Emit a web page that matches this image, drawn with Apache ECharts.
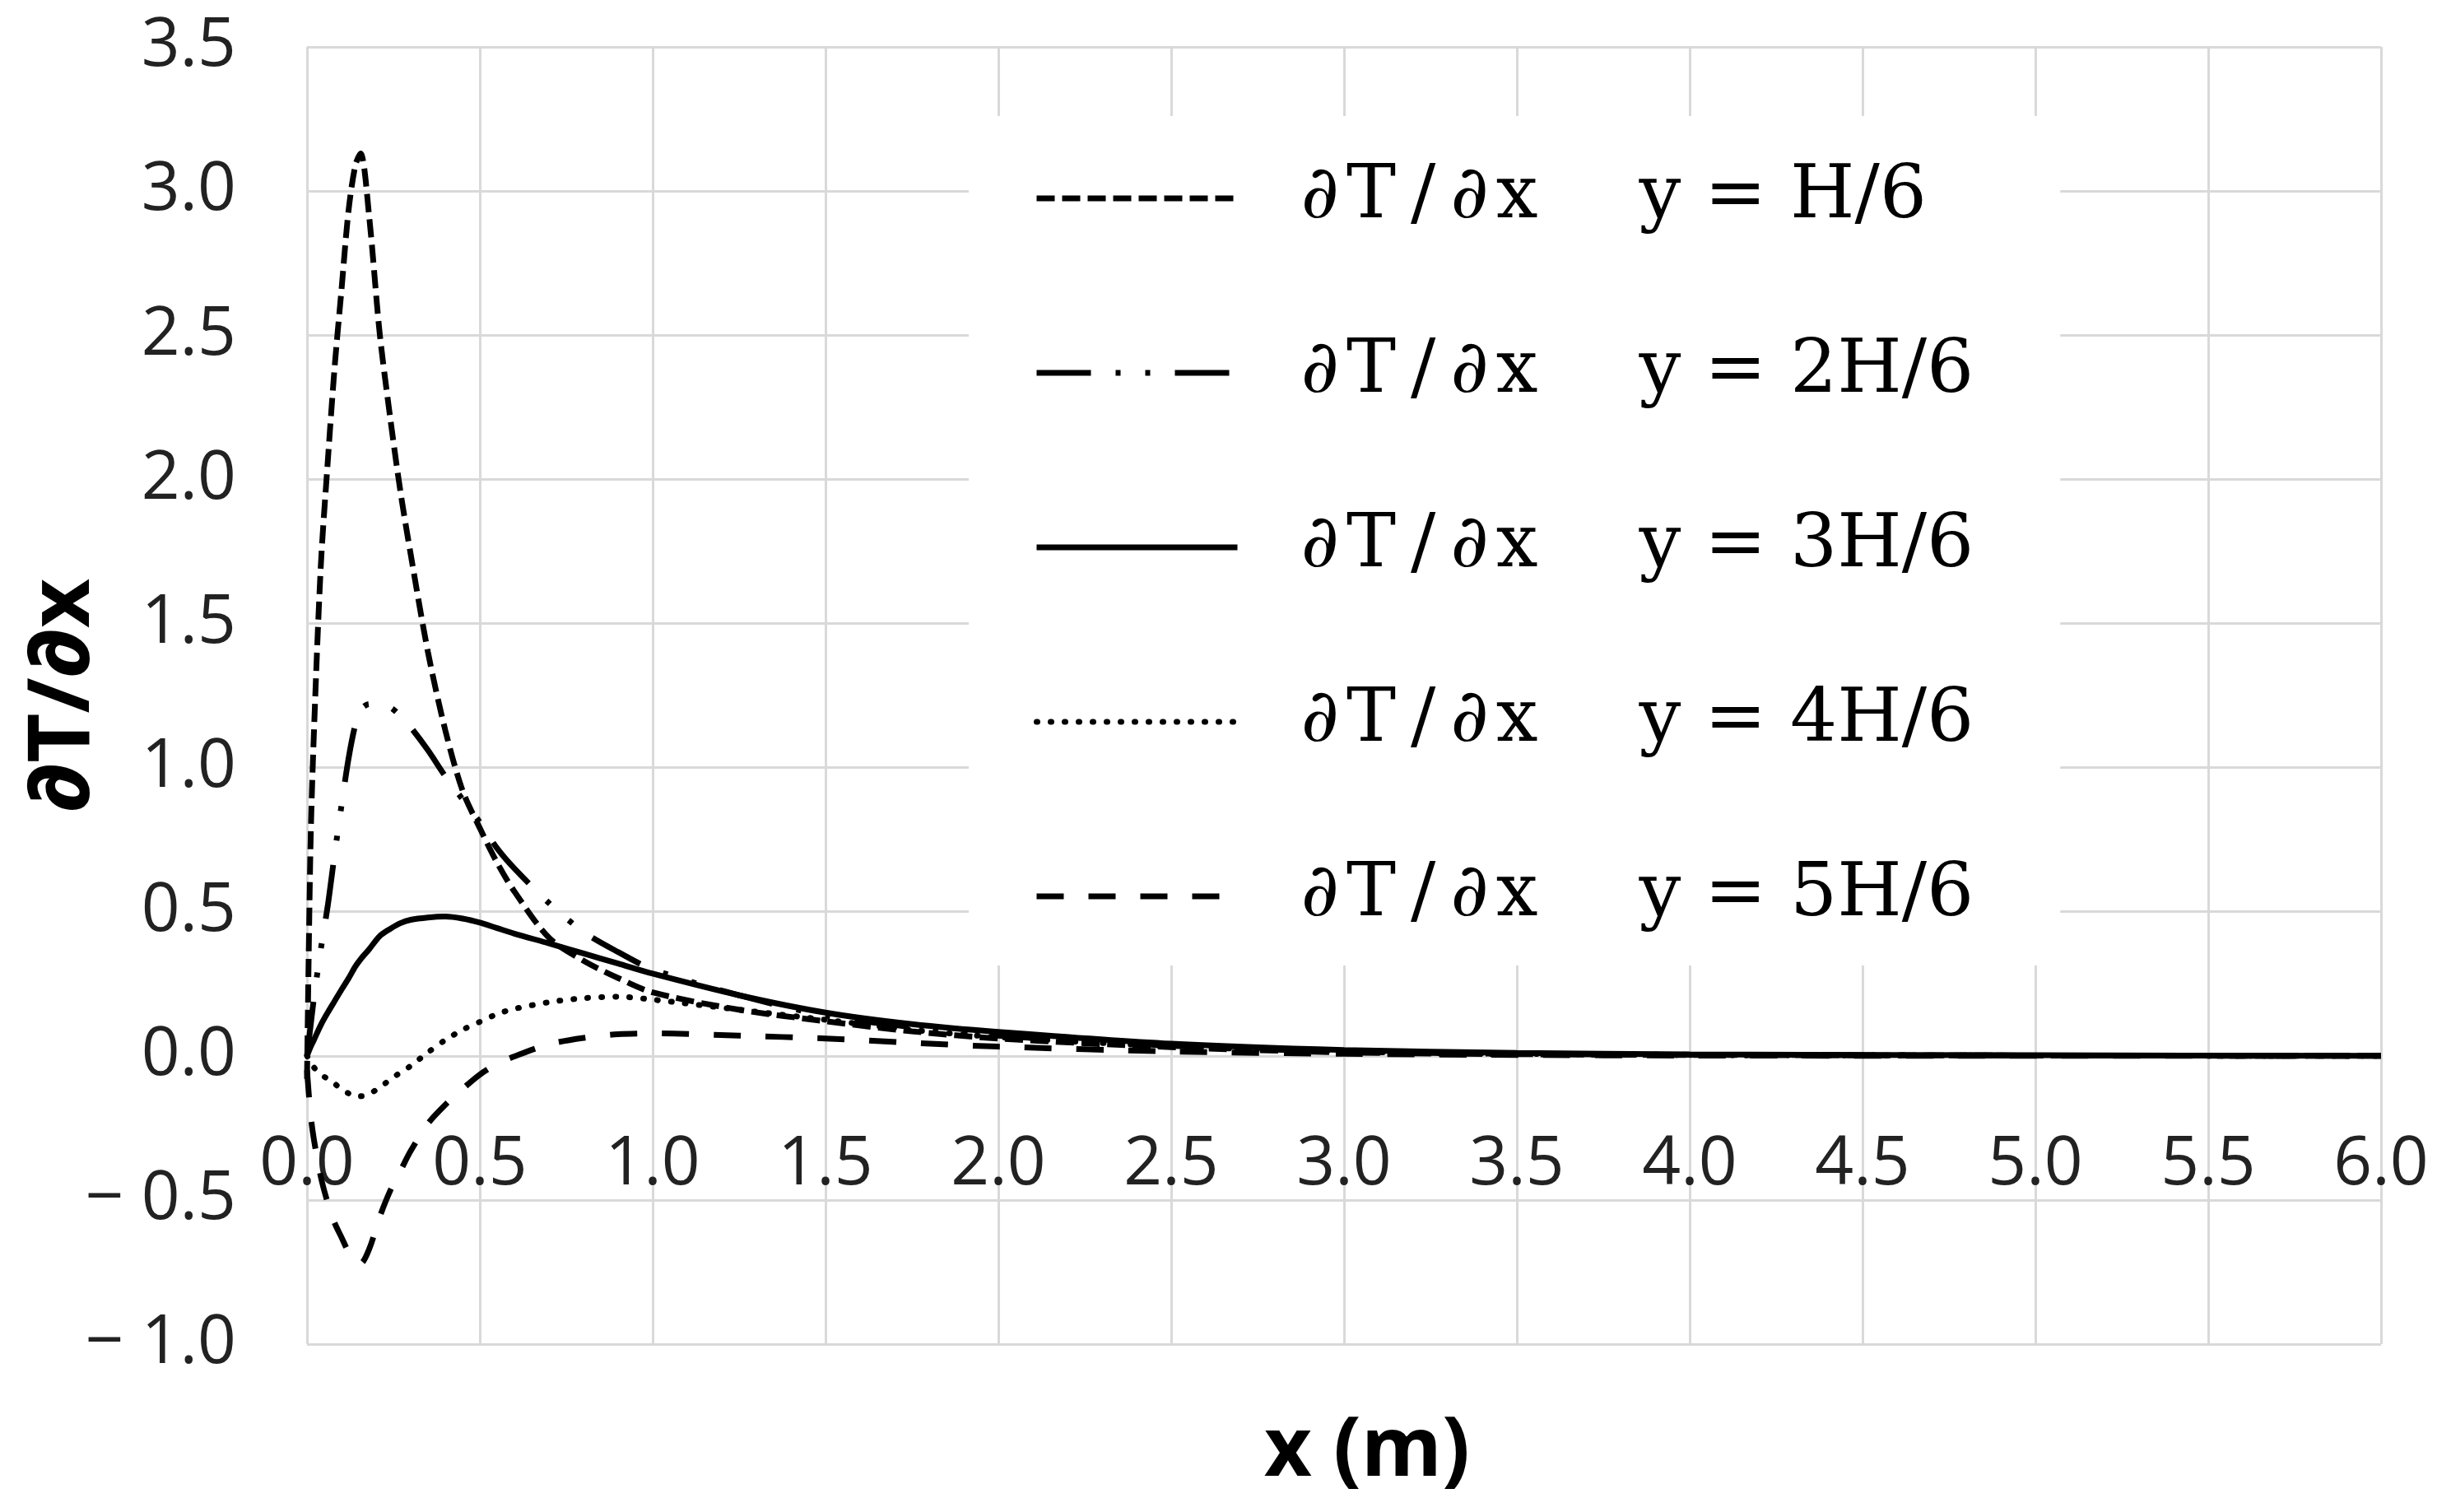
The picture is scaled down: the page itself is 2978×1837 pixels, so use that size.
<!DOCTYPE html>
<html>
<head>
<meta charset="utf-8">
<title>dT/dx</title>
<script src="https://cdn.jsdelivr.net/npm/echarts@6/dist/echarts.min.js"></script>
<style>
  html, body { margin: 0; padding: 0; background: #fff; }
  #curve { width: 2978px; height: 1837px; }
</style>
</head>
<body>
<div id="curve"></div>
<script>
// x positions (m) shared by all curves
var xs = [0, 0.01, 0.02, 0.04, 0.06, 0.08, 0.10, 0.12, 0.14, 0.155, 0.18, 0.21, 0.24, 0.27, 0.30,
          0.35, 0.40, 0.45, 0.50, 0.55, 0.60, 0.70, 0.80, 0.90, 1.00, 1.25, 1.50, 1.75, 2.00,
          2.50, 3.00, 3.50, 4.00, 5.00, 6.00];

// dT/dx, one array per height
var yH1 = [-0.08, 0.72, 1.12, 1.70, 2.06, 2.39, 2.66, 2.93, 3.09, 3.13, 2.91, 2.51, 2.22, 1.96, 1.74,
           1.40, 1.13, 0.92, 0.79, 0.67, 0.57, 0.41, 0.33, 0.27, 0.22, 0.16, 0.12, 0.085, 0.06,
           0.03, 0.012, 0.006, 0.003, 0.001, 0];
var yH2 = [0, 0.10, 0.20, 0.37, 0.52, 0.70, 0.87, 1.03, 1.15, 1.20, 1.22, 1.22, 1.21, 1.18, 1.14,
           1.06, 0.97, 0.89, 0.81, 0.72, 0.65, 0.53, 0.43, 0.36, 0.30, 0.21, 0.14, 0.10, 0.07,
           0.035, 0.015, 0.007, 0.004, 0.001, 0];
var yH3 = [0, 0.03, 0.055, 0.107, 0.15, 0.19, 0.23, 0.268, 0.31, 0.335, 0.37, 0.415, 0.44, 0.46, 0.472,
           0.48, 0.483, 0.476, 0.462, 0.443, 0.424, 0.39, 0.355, 0.32, 0.285, 0.21, 0.15, 0.11, 0.083,
           0.042, 0.02, 0.01, 0.005, 0.002, 0];
var yH4 = [0, -0.02, -0.04, -0.065, -0.08, -0.097, -0.115, -0.13, -0.14, -0.14, -0.132, -0.11, -0.083, -0.058, -0.035,
           0.012, 0.055, 0.09, 0.118, 0.145, 0.163, 0.186, 0.2, 0.205, 0.195, 0.16, 0.125, 0.09, 0.065,
           0.033, 0.015, 0.007, 0.003, 0.001, 0];
var yH5 = [-0.05, -0.2, -0.29, -0.42, -0.51, -0.58, -0.63, -0.68, -0.71, -0.72, -0.67, -0.56, -0.47, -0.40, -0.33,
           -0.235, -0.17, -0.115, -0.065, -0.028, -0.002, 0.04, 0.062, 0.075, 0.078, 0.07, 0.06, 0.045, 0.032,
           0.015, 0.007, 0.003, 0.001, 0, 0];

var seriesNames = ['H/6', '2H/6', '3H/6', '4H/6', '5H/6'];
var seriesValues = [yH1, yH2, yH3, yH4, yH5];
/*线型: 短虚线, 长划双点, 实线, 点线, 长虚线*/
var lineTypes = [[22, 9], [66, 30, 6, 30, 6, 30], 'solid', [1, 16], [33, 30]];
var lineCaps = ['butt', 'butt', 'butt', 'round', 'butt'];

var myChart = echarts.init(document.getElementById('curve'));

var axisFont = "'Open Sans', 'DejaVu Sans', sans-serif";
var legendFont = "'DejaVu Serif', 'Liberation Serif', serif";

var series = seriesNames.map(function (name, k) {
    return {
        name: name,
        type: 'line',
        smooth: 0.3,
        symbol: 'none',
        color: '#000',
        data: xs.map(function (x, i) { return [x, seriesValues[k][i]]; }),
        lineStyle: {
            color: '#000',
            width: 7,
            type: lineTypes[k],
            cap: lineCaps[k]
        },
        z: 3
    };
});

var option = {
    animation: false,
    backgroundColor: '#fff',
    color: ['#000'],
    grid: {
        left: 373,
        right: 85,
        top: 57,
        bottom: 204,
        containLabel: false,
        outerBoundsMode: 'none'
    },
    legend: {
        orient: 'vertical',
        left: 1177,
        top: 141,
        padding: [55, 105, 39, 79],
        backgroundColor: '#fff',
        itemWidth: 244,
        itemHeight: 90,
        itemGap: 122,
        data: seriesNames,
        itemStyle: { opacity: 0 },
        lineStyle: { width: 7, color: '#000' },
        formatter: function (name) {
            // 细空格让 ∂T/∂x 更宽一点
            return '{g| }{a|∂\u200aT\u2009/\u2009∂\u200ax}{b|y = ' + name + '}';
        },
        textStyle: {
            color: '#000',
            fontFamily: legendFont,
            fontSize: 90,
            rich: {
                g: { width: 72, fontSize: 90, lineHeight: 90 },
                a: { width: 411, fontSize: 90, lineHeight: 90, fontFamily: legendFont },
                b: { fontSize: 90, lineHeight: 90, fontFamily: legendFont }
            }
        },
        z: 5
    },
    /*X轴, 放在 y=0 处*/
    xAxis: {
        type: 'value',
        min: 0,
        max: 6,
        interval: 0.5,
        offset: -350,
        name: 'x (m)',
        nameLocation: 'middle',
        nameGap: 432,
        nameMoveOverlap: false,
        nameTextStyle: {
            fontFamily: axisFont,
            fontWeight: 'bold',
            fontSize: 100,
            color: '#000',
            padding: [0, 0, 0, 56]
        },
        axisLine: {
            show: true,
            onZero: false,
            lineStyle: { color: '#d9d9d9', width: 3 }
        },
        axisTick: { show: false },
        axisLabel: {
            margin: 92,
            fontFamily: axisFont,
            fontSize: 82,
            color: '#222',
            formatter: function (v) { return v.toFixed(1); }
        },
        splitLine: {
            show: true,
            lineStyle: { color: '#d9d9d9', width: 3 }
        }
    },
    /*Y轴*/
    yAxis: {
        type: 'value',
        min: -1,
        max: 3.5,
        interval: 0.5,
        name: '∂T/∂x',
        nameLocation: 'middle',
        nameGap: 243,
        nameMoveOverlap: false,
        nameTextStyle: {
            fontFamily: axisFont,
            fontWeight: 'bold',
            fontSize: 104,
            color: '#000'
        },
        axisLine: { show: false },
        axisTick: { show: false },
        axisLabel: {
            margin: 86,
            fontFamily: axisFont,
            fontSize: 82,
            color: '#222',
            formatter: function (v) {
                return v < 0 ? '\u2212 ' + (-v).toFixed(1) : v.toFixed(1);
            }
        },
        splitLine: {
            show: true,
            lineStyle: { color: '#d9d9d9', width: 3 }
        }
    },
    series: series
};

myChart.setOption(option);
</script>
</body>
</html>
